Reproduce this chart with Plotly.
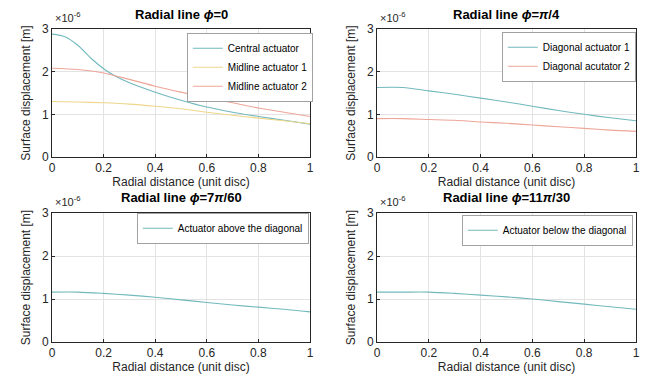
import plotly.graph_objects as go

W, H = 646, 377

# ---- data (surface displacement in units of 1e-6 m) ----
r_fine = [0.0, 0.05, 0.1, 0.15, 0.2, 0.25, 0.3, 0.4, 0.5, 0.6, 0.7, 0.8, 0.9, 1.0]
central = [2.88, 2.82, 2.62, 2.32, 2.07, 1.88, 1.74, 1.52, 1.33, 1.17, 1.05, 0.95, 0.86, 0.77]

r = [0.0, 0.1, 0.2, 0.3, 0.4, 0.5, 0.6, 0.7, 0.8, 0.9, 1.0]
midline1 = [1.30, 1.29, 1.27, 1.24, 1.19, 1.13, 1.05, 0.98, 0.91, 0.85, 0.78]
midline2 = [2.08, 2.05, 1.97, 1.82, 1.66, 1.52, 1.39, 1.27, 1.15, 1.05, 0.95]
diag1 = [1.63, 1.63, 1.55, 1.47, 1.38, 1.29, 1.19, 1.09, 1.00, 0.92, 0.85]
diag2 = [0.90, 0.90, 0.88, 0.86, 0.82, 0.79, 0.75, 0.71, 0.67, 0.63, 0.60]
above = [1.16, 1.16, 1.13, 1.09, 1.04, 0.98, 0.92, 0.86, 0.81, 0.76, 0.70]
below = [1.16, 1.16, 1.16, 1.13, 1.09, 1.05, 1.00, 0.94, 0.88, 0.82, 0.76]

x_ticks = [0, 0.2, 0.4, 0.6, 0.8, 1]
x_ticklabels = ["0", "0.2", "0.4", "0.6", "0.8", "1"]
y_ticks = [0, 1, 2, 3]
y_ticklabels = ["0", "1", "2", "3"]

titles = ["<b>Radial line <i>ϕ</i>=0</b>", "<b>Radial line <i>ϕ</i>=<i>π</i>/4</b>",
          "<b>Radial line <i>ϕ</i>=7<i>π</i>/60</b>", "<b>Radial line <i>ϕ</i>=11<i>π</i>/30</b>"]

TEAL = "#72b9bd"
YEL = "#eed68a"
SAL = "#eea698"

series = [
    # (x, y, name, color, subplot index)
    (r_fine, central, "Central actuator", TEAL, 1),
    (r, midline1, "Midline actuator 1", YEL, 1),
    (r, midline2, "Midline actuator 2", SAL, 1),
    (r, diag1, "Diagonal actuator 1", TEAL, 2),
    (r, diag2, "Diagonal acutator 2", SAL, 2),
    (r, above, "Actuator above the diagonal", TEAL, 3),
    (r, below, "Actuator below the diagonal", TEAL, 4),
]

FONT = "Liberation Sans, Arial, sans-serif"
DARK = "#262626"

# pixel layout of the four axes boxes: (left, right, top, bottom)
boxes = [(52, 310, 29, 157), (377, 636, 29, 157), (52, 310, 213, 342), (377, 636, 213, 342)]

fig = go.Figure()
for x, y, name, color, k in series:
    sfx = "" if k == 1 else str(k)
    fig.add_trace(go.Scatter(
        x=x, y=y, mode="lines", name=name, line=dict(color=color, width=1.1, shape="spline", smoothing=0.8),
        xaxis="x" + sfx, yaxis="y" + sfx, legend="legend" + sfx,
    ))

layout = dict(
    width=W, height=H, margin=dict(l=0, r=0, t=0, b=0),
    paper_bgcolor="white", plot_bgcolor="white",
    font=dict(family=FONT, size=12, color=DARK),
    annotations=[],
)

legend_pos = [(313, 33), (636, 32), (309, 213), (633, 215)]

for i, (l, rr, t, b) in enumerate(boxes):
    k = i + 1
    sfx = "" if k == 1 else str(k)
    xd = [l / W, rr / W]
    yd = [(H - b) / H, (H - t) / H]
    common = dict(showline=True, linecolor=DARK, linewidth=0.8, mirror=True,
                  showgrid=True, gridcolor="#e3e3e3", gridwidth=0.8, zeroline=False,
                  ticks="inside", ticklen=3, tickcolor=DARK, automargin=False,
                  ticklabeloverflow="allow",
                  tickfont=dict(size=12, color=DARK, family=FONT))
    layout["xaxis" + sfx] = dict(domain=xd, range=[0, 1], tickvals=x_ticks, ticktext=x_ticklabels,
                                 anchor="y" + sfx,
                                 title=dict(text="Radial distance (unit disc)", standoff=1,
                                            font=dict(size=12, color=DARK)),
                                 **common)
    layout["yaxis" + sfx] = dict(domain=yd, range=[0, 3], tickvals=y_ticks, ticktext=y_ticklabels,
                                 anchor="x" + sfx,
                                 title=dict(text="Surface displacement [m]", standoff=8,
                                            font=dict(size=12, color=DARK)),
                                 **common)
    lx, ly = legend_pos[i]
    layout["legend" + sfx] = dict(x=lx / W, y=(H - ly) / H, xanchor="right", yanchor="top",
                                  xref="paper", yref="paper",
                                  bgcolor="white", bordercolor="#8a8a8a", borderwidth=0.8,
                                  font=dict(size=10, color="#000000", family=FONT),
                                  itemwidth=30, tracegroupgap=0)
    layout["annotations"].append(dict(
        text=titles[i], x=(l + rr) / 2 / W, y=(H - t + 15) / H, xref="paper", yref="paper",
        xanchor="center", yanchor="middle", showarrow=False,
        font=dict(size=13, color="#000000", family=FONT)))
    layout["annotations"].append(dict(
        text="×10<sup>-6</sup>", x=(l + 1) / W, y=(H - t + 3) / H, xref="paper", yref="paper",
        xanchor="left", yanchor="bottom", showarrow=False,
        font=dict(size=11, color=DARK, family=FONT)))

fig.update_layout(**layout)
fig.write_html("out.html", config={"displayModeBar": False},
               post_script="document.body.style.margin='0';document.body.style.padding='0';")
